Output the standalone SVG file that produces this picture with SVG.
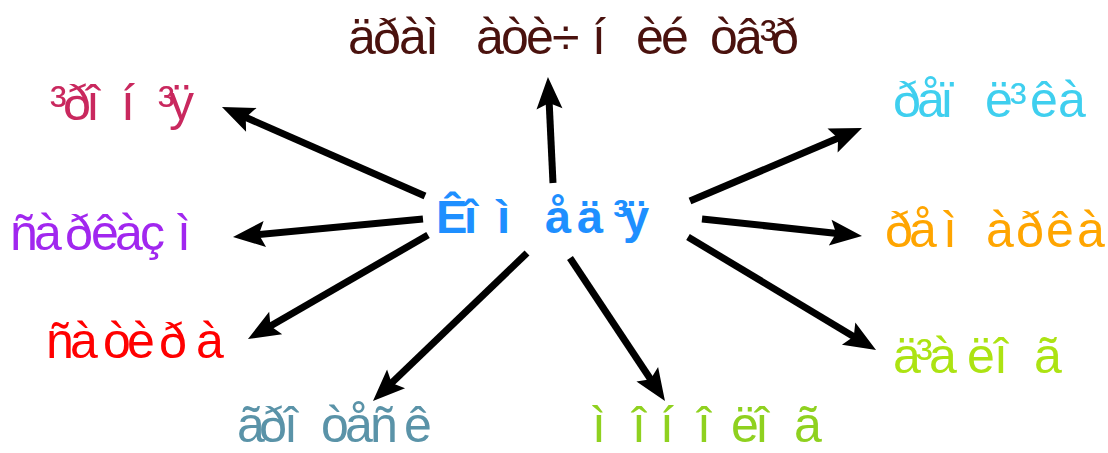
<svg xmlns="http://www.w3.org/2000/svg" width="1108" height="453" viewBox="0 0 1108 453">
<style>
text{font-family:"Liberation Sans",Arial,sans-serif;font-size:50px}
.c{font-weight:bold;fill:#1e8fff;font-size:47px}
.ln{stroke:#000;stroke-width:7;fill:none;marker-end:url(#ah)}
</style>
<defs>
<marker id="ah" markerUnits="userSpaceOnUse" viewBox="-15 -15 40 30" markerWidth="40" markerHeight="30" refX="0" refY="0" orient="auto">
<path d="M20,0 L-12,-13 L-6,0 L-12,13 Z" fill="#000"/>
</marker>
</defs>
<rect width="1108" height="453" fill="#fff"/>
<g id="connectors">
<line class="ln" x1="553" y1="183" x2="548.9" y2="97"/>
<line class="ln" x1="425" y1="196" x2="240.3" y2="115"/>
<line class="ln" x1="423" y1="219" x2="252.9" y2="235.1"/>
<line class="ln" x1="428" y1="235" x2="265.3" y2="329"/>
<line class="ln" x1="527" y1="253" x2="387.4" y2="387.1"/>
<line class="ln" x1="570" y1="258" x2="653.9" y2="384.3"/>
<line class="ln" x1="688" y1="237" x2="858.9" y2="339.7"/>
<line class="ln" x1="702" y1="219" x2="842.1" y2="233.9"/>
<line class="ln" x1="690" y1="201" x2="843.6" y2="135.8"/>
</g>
<g id="center"><text class="c" x="436 464 497 545 577 613 623" y="233">Êîìåä³ÿ</text></g>
<g id="top"><text fill="#4a120e" x="348 373 399 425 476 501 526 552 592 636 661 690 710 735 760 771" y="54">äðàìàòè÷íèé òâ³ð</text></g>
<g id="irony"><text fill="#c9285e" x="50 63 86 121 158 169" y="120">³ðîí³ÿ</text></g>
<g id="sarcasm"><text fill="#a127ef" x="10 34 65 91 115 140 177" y="250">ñàðêàçì</text></g>
<g id="satire"><text fill="#ff0000" x="46 70 103 127 159 196" y="358">ñàòèðà</text></g>
<g id="grotesque"><text fill="#5a93a8" x="237 259 284 321 345 370 404" y="442">ãðîòåñê</text></g>
<g id="monologue"><text fill="#8fd11f" x="592 632 660 697 731 755 794" y="442">ìîíîëîã</text></g>
<g id="remark"><text fill="#3fcfef" x="893 917 940 985 1010 1030 1058" y="117">ðåïë³êà</text></g>
<g id="stage-direction"><text fill="#ffa500" x="885 909 943 986 1016 1046 1077" y="247">ðåìàðêà</text></g>
<g id="dialogue"><text fill="#ace312" x="893 916 929 967 994 1034" y="373">ä³àëîã</text></g>
</svg>
